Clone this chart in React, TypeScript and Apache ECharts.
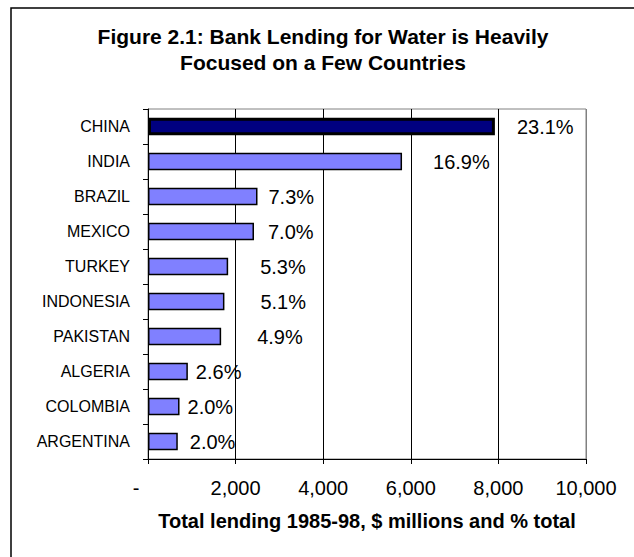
import React, { useEffect, useRef } from "react";
import * as echarts from "echarts";

const categories = ["CHINA", "INDIA", "BRAZIL", "MEXICO", "TURKEY", "INDONESIA", "PAKISTAN", "ALGERIA", "COLOMBIA", "ARGENTINA"];
const lending = [7920, 5800, 2500, 2420, 1830, 1745, 1670, 910, 720, 680];
const shares = ["23.1%", "16.9%", "7.3%", "7.0%", "5.3%", "5.1%", "4.9%", "2.6%", "2.0%", "2.0%"];
const xTicks = { min: 0, max: 10000, interval: 2000 };

// label gap (px) from bar end, styling only
const labelGaps = [22, 31, 11, 14, 32, 36, 36, 8, 8, 12];

const FONT = "'Liberation Sans', Arial, Helvetica, sans-serif";

export default function App() {
  const ref = useRef<HTMLDivElement>(null);
  useEffect(() => {
    if (!ref.current) return;
    const chart = echarts.init(ref.current, undefined, { renderer: "svg" });
    const data = lending.map((v, i) => ({
      value: v,
      itemStyle:
        i === 0
          ? { color: "#000080", borderColor: "#000", borderWidth: 3 }
          : { color: "#8080FF", borderColor: "#000", borderWidth: 1.5 },
      label: { distance: labelGaps[i] },
    }));
    chart.setOption({
      animation: false,
      backgroundColor: "#fff",
      textStyle: { fontFamily: FONT },
      title: {
        text: "Figure 2.1: Bank Lending for Water is Heavily\nFocused on a Few Countries",
        left: 318,
        textAlign: "center",
        top: 18,
        textStyle: { fontFamily: FONT, fontSize: 21, fontWeight: "bold", color: "#000", lineHeight: 26 },
      },
      graphic: [
        {
          type: "rect",
          shape: { x: 11, y: 8, width: 700, height: 700 },
          style: { fill: "none", stroke: "#000", lineWidth: 1.5 },
          silent: true,
        },
      ],
      grid: { left: 148, top: 109, width: 438, height: 350, show: true, borderColor: "#808080", borderWidth: 1, backgroundColor: "transparent" },
      xAxis: {
        type: "value",
        min: xTicks.min,
        max: xTicks.max,
        interval: xTicks.interval,
        name: "Total lending 1985-98, $ millions and % total",
        nameLocation: "middle",
        nameGap: 52,
        nameTextStyle: { fontFamily: FONT, fontSize: 20, fontWeight: "bold", color: "#000" },
        axisLine: { show: true, lineStyle: { color: "#000", width: 1 } },
        axisTick: { show: true, length: 5, lineStyle: { color: "#000" } },
        axisLabel: {
          margin: 19,
          fontFamily: FONT,
          fontSize: 20,
          color: "#000",
          formatter: (v: number) => (v === 0 ? "{d|-}" : v.toString().replace(/\B(?=(\d{3})+(?!\d))/g, ",")),
          rich: { d: { fontFamily: FONT, fontSize: 20, color: "#000", padding: [0, 24, 0, 0] } },
        },
        splitLine: { show: true, lineStyle: { color: ["#000", "#000", "#000", "#000", "#000", "#808080"], width: 1 } },
      },
      yAxis: {
        type: "category",
        data: categories,
        inverse: true,
        axisLine: { show: true, lineStyle: { color: "#000", width: 1 } },
        axisTick: { show: true, length: 5, lineStyle: { color: "#000" } },
        axisLabel: { margin: 18, fontFamily: FONT, fontSize: 16, color: "#000" },
      },
      series: [
        {
          type: "bar",
          data,
          barWidth: 17.5,
          label: {
            show: true,
            position: "right",
            fontFamily: FONT,
            fontSize: 20,
            color: "#000",
            formatter: (p: any) => shares[p.dataIndex],
          },
        },
      ],
    });
    return () => chart.dispose();
  }, []);
  return <div ref={ref} style={{ position: "fixed", left: 0, top: 0, width: 634, height: 557 }} />;
}
